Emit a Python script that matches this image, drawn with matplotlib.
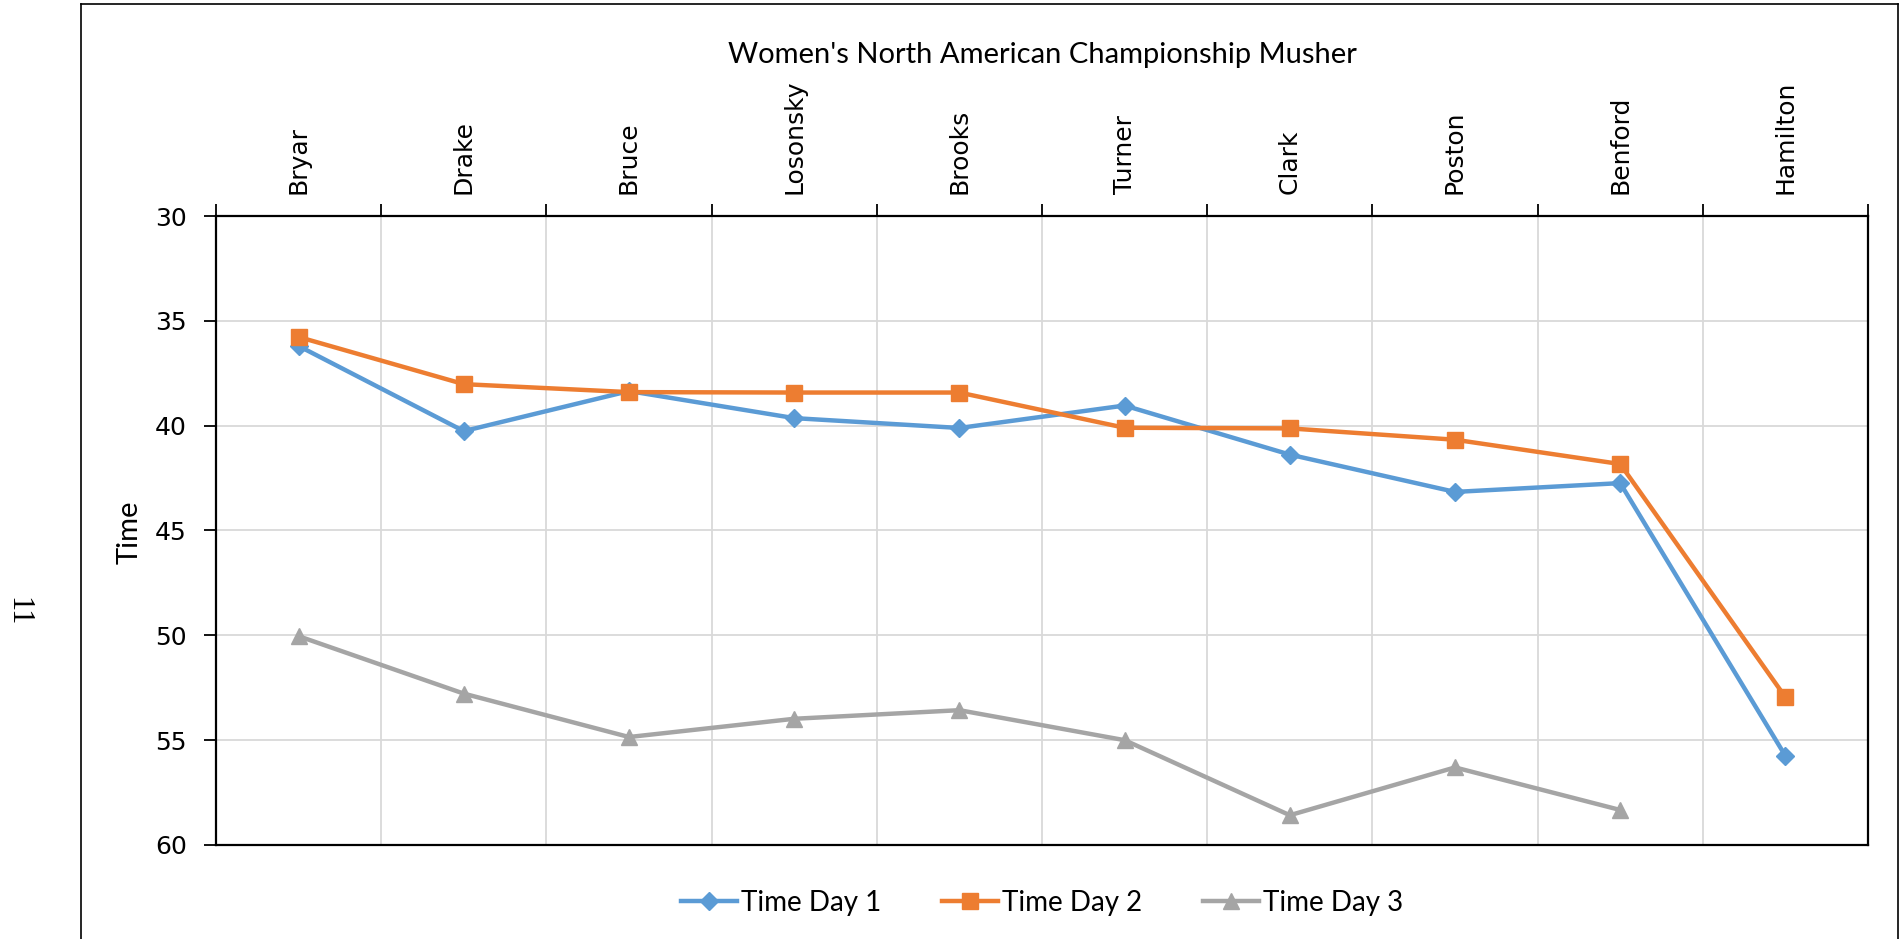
import matplotlib
matplotlib.use("Agg")
import matplotlib.pyplot as plt
from matplotlib.lines import Line2D
import numpy as np

mushers = ["Bryar", "Drake", "Bruce", "Losonsky", "Brooks",
           "Turner", "Clark", "Poston", "Benford", "Hamilton"]
day1 = [36.2, 40.26, 38.35, 39.64, 40.11, 39.04, 41.38, 43.16, 42.74, 55.75]
day2 = [35.77, 38.02, 38.4, 38.42, 38.42, 40.1, 40.13, 40.67, 41.83, 52.95]
day3 = [50.04, 52.78, 54.85, 53.98, 53.57, 55.0, 58.58, 56.3, 58.33, np.nan]
series_names = ["Time Day 1", "Time Day 2", "Time Day 3"]
y_ticks = [30, 35, 40, 45, 50, 55, 60]

title_font = "Lato"
tick_font = "DejaVu Sans"

fig = plt.figure(figsize=(19, 9.39), dpi=100)
ax = fig.add_axes([216 / 1900, 1 - 845 / 939, (1868 - 216) / 1900, (845 - 216) / 939])

x = np.arange(len(mushers))
ax.plot(x, day1, color="#5B9BD5", lw=3.2, marker="D", ms=9.5, label=series_names[0])
ax.plot(x, day2, color="#ED7D31", lw=3.2, marker="s", ms=11, label=series_names[1])
ax.plot(x, day3, color="#A5A5A5", lw=3.2, marker="^", ms=11, label=series_names[2])

# value axis reversed, 30 at top
ax.set_ylim(60, 30)
ax.set_yticks(y_ticks)
ax.set_xlim(-0.5, len(mushers) - 0.5)

# category labels on top, tick marks between categories
ax.xaxis.tick_top()
ax.set_xticks(x)
ax.set_xticklabels(mushers, rotation=90, fontsize=18, family=tick_font)
ax.set_xticks(np.arange(-0.5, len(mushers)), minor=True)
ax.tick_params(axis="x", which="major", length=0, pad=16)
ax.tick_params(axis="x", which="minor", length=9, width=1.3, top=True, bottom=False)
ax.tick_params(axis="y", which="major", length=9, width=1.3, labelsize=18, pad=12)
for lbl in ax.get_yticklabels():
    lbl.set_family(tick_font)

ax.grid(True, axis="x", which="minor", color="#d9d9d9", lw=1.3)
ax.grid(True, axis="y", which="major", color="#d9d9d9", lw=1.3)
ax.set_axisbelow(True)
for s in ax.spines.values():
    s.set_linewidth(1.6)
    s.set_color("black")

fig.text(130 / 1900, 1 - 532 / 939, "Time", rotation=90, ha="center", va="center",
         fontsize=21, family=title_font)
fig.text(1042 / 1900, 1 - 55 / 939, "Women's North American Championship Musher",
         ha="center", va="center", fontsize=21, family=title_font)

fig.legend(loc="center", bbox_to_anchor=(1042 / 1900, 1 - 903 / 939), ncol=3,
           frameon=False, prop={"family": title_font, "size": 20},
           handlelength=2.0, handletextpad=0.15, columnspacing=2.2)

# page border and page number
fig.add_artist(Line2D([81 / 1900, 81 / 1900], [0, 1 - 4 / 939], color="black", lw=1.2))
fig.add_artist(Line2D([81 / 1900, 1898 / 1900], [1 - 4 / 939, 1 - 4 / 939], color="black", lw=1.2))
fig.add_artist(Line2D([1898 / 1900, 1898 / 1900], [0, 1 - 4 / 939], color="black", lw=1.2))
fig.text(18 / 1900, 1 - 612 / 939, "11", rotation=270, ha="center", va="center",
         fontsize=22, family="Liberation Serif")

fig.savefig("out.png", dpi=100)
